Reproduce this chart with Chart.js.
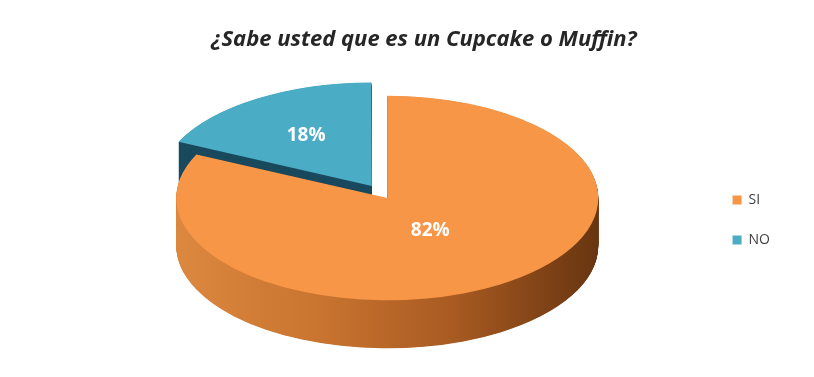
<!DOCTYPE html>
<html>
<head>
<meta charset="utf-8">
<script src="https://cdn.jsdelivr.net/npm/chart.js@4"></script>
<style>
  html, body { margin: 0; padding: 0; background: #ffffff; }
  #wrap { width: 814px; height: 377px; position: relative; }
</style>
</head>
<body>
<div id="wrap"><canvas id="c"></canvas></div>
<script>
// Survey answers
const categories = ['SI', 'NO'];
const shares = [82, 18];
const chartTitle = '¿Sabe usted que es un Cupcake o Muffin?';

// Slice styling
const topColors = ['#f79646', '#4bacc6'];
const sideColors = [null, '#1a4a5e'];   // null -> shaded orange gradient
const explode = [0, 116];               // Chart.js arc offset (drawn as offset / 4)
const labelRadius = [0.38, 0.58];       // label distance as a fraction of the radius

// 3D look
const RADIUS = 211;    // horizontal half-width of the pie, px
const TILT = 0.485;    // vertical squash of the pie face
const DEPTH = 48;      // height of the pie's side wall, px
const CENTER_Y = 198;  // vertical centre of the top face, px

const pie3d = {
  id: 'pie3d',
  beforeDatasetsDraw(chart) {
    const arcs = chart.getDatasetMeta(0).data;
    const ctx = chart.ctx;
    ctx.save();
    if (!arcs.length) return;
    const cx = arcs[0].x, cy = arcs[0].y, r = arcs[0].outerRadius;
    ctx.translate(cx, CENTER_Y);
    ctx.scale(1, TILT);
    ctx.translate(-cx, -cy);

    const grad = ctx.createLinearGradient(cx - r, 0, cx + r, 0);
    grad.addColorStop(0, '#dc883f');
    grad.addColorStop(0.35, '#c8732f');
    grad.addColorStop(0.65, '#a95b22');
    grad.addColorStop(1, '#683510');

    // side wall: stack the slice outlines downward, deepest first
    for (let d = DEPTH; d >= 0.5; d -= 0.5) {
      ctx.save();
      ctx.translate(0, d / TILT);
      arcs.forEach((arc, i) => {
        const ghost = Object.create(arc);
        ghost.options = Object.assign({}, arc.options, {
          backgroundColor: sideColors[i] || grad,
          borderWidth: 0
        });
        ghost.draw(ctx);
      });
      ctx.restore();
    }
  },
  afterDatasetsDraw(chart) {
    const ctx = chart.ctx;
    ctx.restore();
    const meta = chart.getDatasetMeta(0);
    const arcs = meta.data;
    if (!arcs.length) return;
    const cx = arcs[0].x;
    const total = shares.reduce((a, b) => a + b, 0);
    ctx.save();
    ctx.fillStyle = '#ffffff';
    ctx.font = 'bold 19px "Open Sans", sans-serif';
    ctx.textAlign = 'center';
    ctx.textBaseline = 'middle';
    arcs.forEach((arc, i) => {
      const mid = (arc.startAngle + arc.endAngle) / 2;
      const rr = arc.outerRadius * labelRadius[i] + explode[i] / 4;
      const x = cx + Math.cos(mid) * rr;
      const y = CENTER_Y + Math.sin(mid) * rr * TILT;
      ctx.fillText(Math.round(shares[i] / total * 100) + '%', x, y);
    });
    ctx.restore();
  }
};

new Chart(document.getElementById('c'), {
  type: 'pie',
  data: {
    labels: categories,
    datasets: [{
      data: shares,
      backgroundColor: topColors,
      borderWidth: 0,
      offset: explode,
      radius: RADIUS,
      clip: false
    }]
  },
  options: {
    responsive: true,
    maintainAspectRatio: false,
    animation: false,
    events: [],
    layout: { padding: { left: 68, right: 34, top: 0, bottom: 104 } },
    plugins: {
      title: {
        display: true,
        text: chartTitle,
        color: '#262626',
        font: { family: '"Open Sans"', size: 22, style: 'italic', weight: 'bold' },
        padding: { top: 27, bottom: 10 }
      },
      legend: {
        position: 'right',
        align: 'end',
        labels: {
          boxWidth: 9,
          boxHeight: 9,
          padding: 26,
          color: '#404040',
          font: { family: '"Open Sans"', size: 14 }
        }
      },
      tooltip: { enabled: false }
    }
  },
  plugins: [pie3d]
});
</script>
</body>
</html>
